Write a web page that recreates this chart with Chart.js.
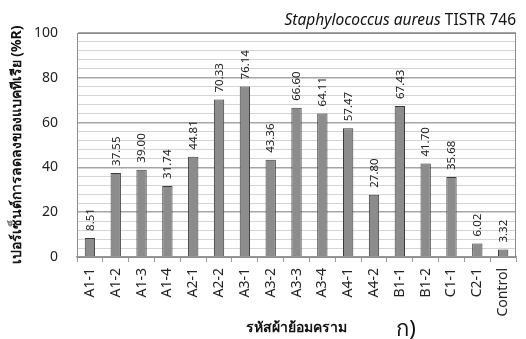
<!DOCTYPE html>
<html>
<head>
<meta charset="utf-8">
<script src="https://cdn.jsdelivr.net/npm/chart.js@4/dist/chart.umd.min.js"></script>
<style>
  html, body { margin: 0; padding: 0; background: #fff; }
  #wrap { width: 526px; height: 339px; }
</style>
</head>
<body>
<div id="wrap"><canvas id="c" width="526" height="339"></canvas></div>
<script>
// Fabric codes (x axis)
const fabricCodes = ['A1-1', 'A1-2', 'A1-3', 'A1-4', 'A2-1', 'A2-2', 'A3-1', 'A3-2', 'A3-3',
  'A3-4', 'A4-1', 'A4-2', 'B1-1', 'B1-2', 'C1-1', 'C2-1', 'Control'];
// Percent reduction of bacteria (%R)
const reductionPercent = [8.51, 37.55, 39.00, 31.74, 44.81, 70.33, 76.14, 43.36, 66.60,
  64.11, 57.47, 27.80, 67.43, 41.70, 35.68, 6.02, 3.32];
// Y axis range and labelled ticks
const yMin = 0;
const yMax = 100;
const yMinorStep = 4;
const yLabelledTicks = [0, 20, 40, 60, 80, 100];

const organismItalic = 'Staphylococcus aureus';
const strainCode = ' TISTR 746';
const yTitle = 'เปอร์เซ็นต์การลดลงของแบคทีเรีย (%R)';
const xTitle = 'รหัสผ้าย้อมคราม';
const panelLetter = 'ก)';

const FONT = "'Noto Sans', 'DejaVu Sans', sans-serif";

// Frame around the plotting area
const frame = {
  id: 'frame',
  beforeDatasetsDraw(chart) {
    const { ctx, chartArea: a } = chart;
    ctx.save();
    ctx.strokeStyle = '#8c8c8c';
    ctx.lineWidth = 1;
    ctx.strokeRect(Math.round(a.left) + 0.5, Math.round(a.top) + 0.5,
      Math.round(a.right - a.left) - 1, Math.round(a.bottom - a.top));
    ctx.restore();
  }
};

// Vertical value labels above each bar
const valueLabels = {
  id: 'valueLabels',
  afterDatasetsDraw(chart) {
    const { ctx } = chart;
    const meta = chart.getDatasetMeta(0);
    const data = chart.data.datasets[0].data;
    ctx.save();
    ctx.font = '11.5px ' + FONT;
    ctx.fillStyle = '#222';
    ctx.textAlign = 'left';
    ctx.textBaseline = 'middle';
    meta.data.forEach((bar, i) => {
      ctx.save();
      ctx.translate(bar.x + 0.5, bar.y - 7);
      ctx.rotate(-Math.PI / 2);
      ctx.fillText(data[i].toFixed(2), 0, 0);
      ctx.restore();
    });
    ctx.restore();
  }
};

// Organism name (top right) and panel letter (bottom)
const annotations = {
  id: 'annotations',
  afterDraw(chart) {
    const { ctx, chartArea: a } = chart;
    ctx.save();
    ctx.fillStyle = '#111';
    ctx.textBaseline = 'alphabetic';
    ctx.font = '15.5px ' + FONT;
    const wStrain = ctx.measureText(strainCode).width;
    ctx.textAlign = 'right';
    ctx.fillText(strainCode, a.right, a.top - 8);
    ctx.font = 'italic 15.5px ' + FONT;
    ctx.fillText(organismItalic, a.right - wStrain, a.top - 8);
    ctx.font = '22px ' + FONT;
    ctx.textAlign = 'left';
    ctx.fillText(panelLetter, a.left + (a.right - a.left) * 0.727, chart.height - 3);
    ctx.restore();
  }
};

new Chart(document.getElementById('c'), {
  type: 'bar',
  data: {
    labels: fabricCodes,
    datasets: [{
      data: reductionPercent,
      backgroundColor: '#8c8c8c',
      borderColor: '#3a3a3a',
      borderWidth: 1,
      borderSkipped: 'bottom',
      barPercentage: 0.4,
      categoryPercentage: 1.0
    }]
  },
  options: {
    responsive: false,
    animation: false,
    devicePixelRatio: 1,
    layout: { padding: { top: 33, right: 2, left: 0, bottom: 0 } },
    plugins: {
      legend: { display: false },
      tooltip: { enabled: false }
    },
    scales: {
      x: {
        offset: true,
        afterFit: (s) => { s.height = 82; },
        grid: {
          display: true,
          offset: true,
          drawOnChartArea: false,
          drawTicks: true,
          tickLength: 5,
          color: '#9a9a9a'
        },
        border: { display: true, color: '#9a9a9a', width: 1.5 },
        ticks: {
          minRotation: 90,
          maxRotation: 90,
          padding: 6,
          color: '#222',
          font: { family: FONT, size: 14 }
        },
        title: {
          display: true,
          text: xTitle,
          color: '#111',
          font: { family: FONT, size: 14, weight: 'bold' },
          padding: { top: 3, bottom: 3 }
        }
      },
      y: {
        min: yMin,
        max: yMax,
        afterFit: (s) => { s.width = 77; },
        ticks: {
          stepSize: yMinorStep,
          autoSkip: false,
          padding: 19,
          color: '#222',
          font: { family: FONT, size: 14 },
          callback: (v) => (yLabelledTicks.includes(v) ? String(v) : '')
        },
        grid: {
          drawTicks: false,
          color: (c) => (c.tick && c.tick.value % 20 === 0 ? '#a6a6a6' : '#d4d4d4'),
          lineWidth: (c) => (c.tick && c.tick.value % 20 === 0 ? 1.5 : 1)
        },
        border: { display: true, color: '#8c8c8c' },
        title: {
          display: true,
          text: yTitle,
          color: '#111',
          font: { family: FONT, size: 14, weight: 'bold' },
          padding: { top: 9, bottom: 9 }
        }
      }
    }
  },
  plugins: [frame, valueLabels, annotations]
});
</script>
</body>
</html>
